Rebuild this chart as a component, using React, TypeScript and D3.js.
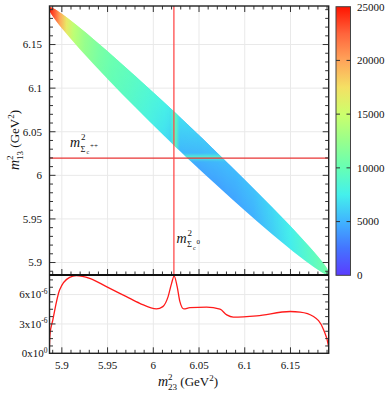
import React from "react";
import * as d3 from "d3";

// Dalitz boundary of the band (m23^2 vs upper / lower m13^2, GeV^2)
const edgeM23 = [5.885622, 5.887, 5.89, 5.9, 5.92, 5.95, 5.98, 6.01, 6.04, 6.07, 6.1, 6.13, 6.16, 6.18, 6.19, 6.192931];
const edgeUpper = [6.19159, 6.192809, 6.191795, 6.18527, 6.169064, 6.142346, 6.114298, 6.085416, 6.05588, 6.025738, 5.99495, 5.963344, 5.930433, 5.906853, 5.893232, 5.886716];
const edgeLower = [6.19159, 6.187559, 6.182485, 6.16869, 6.144352, 6.110519, 6.078322, 6.047258, 6.017148, 5.987935, 5.959661, 5.932484, 5.906897, 5.89163, 5.885876, 5.886716];

// density read along the band, at its upper and lower edge
const densityM23 = [5.8856, 5.892, 5.898, 5.905, 5.913, 5.925, 5.94, 5.955, 5.975, 5.995, 6.012, 6.03, 6.05, 6.07, 6.09, 6.11, 6.13, 6.15, 6.17, 6.1929];
const densityUpper = [25000, 23000, 20000, 17000, 14500, 12600, 11200, 10300, 9500, 8600, 7800, 6700, 6000, 5500, 5300, 5600, 6500, 7700, 9200, 10800];
const densityLower = [25000, 22500, 19500, 16500, 14000, 12200, 10800, 9800, 9000, 8000, 6900, 5200, 4500, 4300, 4400, 4900, 6000, 7300, 8900, 10800];

// resonance positions (red lines) and the enhancement seen on the band
const sigmaC0 = 6.0225;
const sigmaCpp = 6.0198;
const stripeC0Value = 10000;
const stripeCppValue = 8800;

// projected spectrum (units of 1e-6)
const spectrumM23 = [5.8862, 5.887, 5.8901, 5.8975, 5.9085, 5.9158, 5.9304, 5.9487, 5.9706, 5.9852, 6.0035, 6.0104, 6.0162, 6.02, 6.0228, 6.0261, 6.0291, 6.0334, 6.04, 6.0583, 6.0729, 6.0803, 6.0875, 6.1132, 6.1497, 6.1606, 6.1752, 6.1862, 6.1917, 6.1925];
const spectrumValue = [0, 1.9, 3.4, 6.46, 7.76, 7.93, 7.66, 6.81, 5.79, 5.11, 4.53, 4.77, 5.79, 7.15, 7.89, 6.81, 5.28, 4.53, 4.67, 4.71, 4.51, 3.93, 3.7, 3.83, 4.27, 4.21, 3.76, 2.4, 0.67, 0];

// ticks
const xTicks = [5.9, 5.95, 6, 6.05, 6.1, 6.15];
const xTickLabels = ["5.9", "5.95", "6", "6.05", "6.1", "6.15"];
const yTicks = [5.9, 5.95, 6, 6.05, 6.1, 6.15];
const yTickLabels = ["5.9", "5.95", "6", "6.05", "6.1", "6.15"];
const specTicks = [0, 3, 6];
const specTickLabels = [["0x10", "0"], ["3x10", "-6"], ["6x10", "-6"]];
const cbarTicks = [0, 5000, 10000, 15000, 20000, 25000];

// colour palette of the bar
const paletteValues = [0, 2500, 5000, 7500, 10000, 12500, 15000, 17500, 20000, 22500, 25000];
const paletteColors = ["#5a3cff", "#4474ff", "#40b4ff", "#44f0ec", "#66ffb4", "#98ff8c", "#ccff6c", "#f4e064", "#ffa45a", "#ff643c", "#ff1400"];

const W = 390, H = 408;
const P = { left: 49.5, right: 328.7, top: 6, mid: 275, bottom: 353.3 };
const CB = { left: 336, right: 350.5, top: 6.7, bottom: 275.3 };
const FONT = "'Liberation Serif', 'DejaVu Serif', serif";

const x = d3.scaleLinear().domain([5.8865, 6.1918]).range([P.left, P.right]);
const y = d3.scaleLinear().domain([5.8857, 6.1942]).range([P.mid, P.top]);
const ys = d3.scaleLinear().domain([0, 8]).range([P.bottom, P.mid]);
const cz = d3.scaleLinear().domain([0, 25000]).range([CB.bottom, CB.top]);
const color = d3.scaleLinear<string>().domain(paletteValues).range(paletteColors).interpolate(d3.interpolateRgb);

const MassLabel = ({ px, py, sup }) => (
  <g fontFamily={FONT} fill="#111">
    <text x={px} y={py} fontSize={14} fontStyle="italic">m</text>
    <text x={px + 11} y={py - 7} fontSize={9}>2</text>
    <text x={px + 10.5} y={py + 4.5} fontSize={8.5}>Σ</text>
    <text x={px + 16.5} y={py + 7} fontSize={6}>c</text>
    <text x={px + 20} y={py + 1} fontSize={7}>{sup}</text>
  </g>
);

export default function App() {
  // band outline
  const outline = [
    ...edgeM23.map((s, i) => [x(s), y(edgeUpper[i])]),
    ...edgeM23.slice(1, -1).map((s, i) => [x(s), y(edgeLower[i + 1])]).reverse(),
  ];
  const bandPath = d3.line().curve(d3.curveCatmullRomClosed)(outline as [number, number][]);

  const gx0 = x(densityM23[0]);
  const gx1 = x(densityM23[densityM23.length - 1]);
  const off = (s) => (x(s) - gx0) / (gx1 - gx0);

  // cross-band direction for blending upper/lower edge colours
  const a = [x(edgeM23[0]), y(edgeUpper[0])];
  const b = [x(edgeM23[edgeM23.length - 1]), y(edgeUpper[edgeUpper.length - 1])];
  const len = Math.hypot(b[0] - a[0], b[1] - a[1]);
  const n = [(b[1] - a[1]) / len, -(b[0] - a[0]) / len];
  const c = [x(6.04), y((edgeUpper[8] + edgeLower[8]) / 2)];
  const hw = 12;

  const specLine = d3.line<number>()
    .x((_, i) => x(spectrumM23[i]))
    .y((v) => ys(v))
    .curve(d3.curveMonotoneX)(spectrumValue);

  const xMinor = d3.range(589, 620).map((v) => v / 100);
  const yMinor = d3.range(589, 620).map((v) => v / 100);
  const sMinor = d3.range(0, 8.01, 0.75);

  return (
    <svg width={W} height={H} style={{ position: "absolute", left: 0, top: 0, background: "#fff" }}>
      <defs>
        <clipPath id="plotClip"><rect x={P.left} y={P.top} width={P.right - P.left} height={P.mid - P.top} /></clipPath>
        <clipPath id="specClip"><rect x={P.left} y={P.mid} width={P.right - P.left} height={P.bottom - P.mid} /></clipPath>
        <clipPath id="bandClip"><path d={bandPath} /></clipPath>
        <linearGradient id="gUpper" gradientUnits="userSpaceOnUse" x1={gx0} y1={0} x2={gx1} y2={0}>
          {densityM23.map((s, i) => <stop key={i} offset={off(s)} stopColor={color(densityUpper[i])} />)}
        </linearGradient>
        <linearGradient id="gLower" gradientUnits="userSpaceOnUse" x1={gx0} y1={0} x2={gx1} y2={0}>
          {densityM23.map((s, i) => <stop key={i} offset={off(s)} stopColor={color(densityLower[i])} />)}
        </linearGradient>
        <linearGradient id="gMask" gradientUnits="userSpaceOnUse"
          x1={c[0] - hw * n[0]} y1={c[1] - hw * n[1]} x2={c[0] + hw * n[0]} y2={c[1] + hw * n[1]}>
          <stop offset={0} stopColor="#000" />
          <stop offset={1} stopColor="#fff" />
        </linearGradient>
        <mask id="upperMask" maskUnits="userSpaceOnUse" x={0} y={0} width={W} height={H}>
          <rect width={W} height={H} fill="url(#gMask)" />
        </mask>
        <linearGradient id="gBar" x1={0} y1={1} x2={0} y2={0}>
          {paletteValues.map((v, i) => <stop key={i} offset={v / 25000} stopColor={paletteColors[i]} />)}
        </linearGradient>
        <filter id="blur" filterUnits="userSpaceOnUse" x={0} y={0} width={W} height={H}>
          <feGaussianBlur stdDeviation={1.8} />
        </filter>
      </defs>

      {/* grid */}
      <g stroke="#e9e9e9" strokeWidth={1}>
        {xTicks.map((t) => <line key={"gx" + t} x1={x(t)} x2={x(t)} y1={P.top} y2={P.bottom} />)}
        {yTicks.map((t) => <line key={"gy" + t} x1={P.left} x2={P.right} y1={y(t)} y2={y(t)} />)}
        {specTicks.slice(1).map((t) => <line key={"gs" + t} x1={P.left} x2={P.right} y1={ys(t)} y2={ys(t)} />)}
      </g>

      {/* Dalitz band */}
      <g clipPath="url(#plotClip)">
        <g clipPath="url(#bandClip)">
          <rect x={P.left - 5} y={P.top - 5} width={P.right - P.left + 10} height={P.mid - P.top + 10} fill="url(#gLower)" />
          <rect x={P.left - 5} y={P.top - 5} width={P.right - P.left + 10} height={P.mid - P.top + 10} fill="url(#gUpper)" mask="url(#upperMask)" />
          <g filter="url(#blur)" opacity={0.85}>
            <line x1={x(sigmaC0 + 0.0012)} x2={x(sigmaC0 + 0.0012)} y1={y(6.1)} y2={y(5.98)} stroke={color(stripeC0Value)} strokeWidth={5} />
            <line x1={x(5.99)} x2={x(6.1)} y1={y(sigmaCpp + 0.001)} y2={y(sigmaCpp + 0.001)} stroke={color(stripeCppValue)} strokeWidth={4.5} />
          </g>
        </g>
        <line x1={P.left} x2={P.right} y1={y(sigmaCpp)} y2={y(sigmaCpp)} stroke="#e83434" strokeWidth={1.3} />
        <line x1={x(sigmaC0)} x2={x(sigmaC0)} y1={P.top} y2={P.mid} stroke="#ff4a4a" strokeOpacity={0.8} strokeWidth={1.6} />
      </g>

      <MassLabel px={70} py={147} sup="++" />
      <MassLabel px={176.5} py={242.5} sup="0" />

      {/* spectrum */}
      <g clipPath="url(#specClip)">
        <path d={specLine} fill="none" stroke="#ff1a1a" strokeWidth={1.3} />
        <line x1={x(sigmaC0)} x2={x(sigmaC0)} y1={P.mid} y2={ys(7.8)} stroke="#ff2a2a" strokeWidth={1.3} />
      </g>

      {/* ticks */}
      <g stroke="#333" strokeWidth={1}>
        {xMinor.filter((t) => t > x.domain()[0] && t < x.domain()[1]).map((t) => {
          const major = xTicks.some((m) => Math.abs(m - t) < 1e-6);
          const l = major ? 6 : 3.5;
          return (
            <g key={"xt" + t}>
              <line x1={x(t)} x2={x(t)} y1={P.top} y2={P.top + l} />
              <line x1={x(t)} x2={x(t)} y1={P.mid} y2={P.mid - l} />
              <line x1={x(t)} x2={x(t)} y1={P.bottom} y2={P.bottom - l} />
            </g>
          );
        })}
        {yMinor.filter((t) => t > y.domain()[0] && t < y.domain()[1]).map((t) => {
          const major = yTicks.some((m) => Math.abs(m - t) < 1e-6);
          const l = major ? 6 : 3.5;
          return (
            <g key={"yt" + t}>
              <line x1={P.left} x2={P.left + l} y1={y(t)} y2={y(t)} />
              <line x1={P.right} x2={P.right - l} y1={y(t)} y2={y(t)} />
            </g>
          );
        })}
        {sMinor.filter((t) => t > 0 && t < 8).map((t) => {
          const major = specTicks.includes(t);
          const l = major ? 6 : 3.5;
          return (
            <g key={"st" + t}>
              <line x1={P.left} x2={P.left + l} y1={ys(t)} y2={ys(t)} />
              <line x1={P.right} x2={P.right - l} y1={ys(t)} y2={ys(t)} />
            </g>
          );
        })}
      </g>

      {/* frames */}
      <rect x={P.left} y={P.top} width={P.right - P.left} height={P.bottom - P.top} fill="none" stroke="#222" strokeWidth={1.4} />
      <line x1={P.left} x2={P.right} y1={P.mid} y2={P.mid} stroke="#111" strokeWidth={2} />

      {/* tick labels */}
      <g fontFamily={FONT} fontSize={11} fill="#111">
        {xTicks.map((t, i) => <text key={"xl" + t} x={x(t)} y={369} textAnchor="middle">{xTickLabels[i]}</text>)}
        {yTicks.map((t, i) => <text key={"yl" + t} x={42} y={y(t) + 3.8} textAnchor="end">{yTickLabels[i]}</text>)}
        {specTicks.map((t, i) => (
          <text key={"sl" + t} x={47.5} y={ys(t) + 3.8} textAnchor="end">
            {specTickLabels[i][0]}
            <tspan fontSize={7.5} dy={-4.5}>{specTickLabels[i][1]}</tspan>
          </text>
        ))}
      </g>

      {/* axis titles */}
      <text fontFamily={FONT} fontSize={13} fill="#111" textAnchor="middle" x={188} y={386}>
        <tspan fontStyle="italic" fontSize={14}>m</tspan>
        <tspan fontSize={9} dy={-6.5}>2</tspan>
        <tspan fontSize={9} dx={-4.5} dy={10}>23</tspan>
        <tspan dy={-3.5}>{" (GeV"}</tspan>
        <tspan fontSize={9} dy={-5}>2</tspan>
        <tspan dy={5}>)</tspan>
      </text>
      <text fontFamily={FONT} fontSize={13} fill="#111" textAnchor="middle" transform="translate(19,140) rotate(-90)">
        <tspan fontStyle="italic" fontSize={14}>m</tspan>
        <tspan fontSize={9} dy={-6.5}>2</tspan>
        <tspan fontSize={9} dx={-4.5} dy={10}>13</tspan>
        <tspan dy={-3.5}>{" (GeV"}</tspan>
        <tspan fontSize={9} dy={-5}>2</tspan>
        <tspan dy={5}>)</tspan>
      </text>

      {/* colour bar */}
      <rect x={CB.left} y={CB.top} width={CB.right - CB.left} height={CB.bottom - CB.top} fill="url(#gBar)" stroke="#444" strokeWidth={1} />
      <g stroke="#333" strokeWidth={1}>
        {cbarTicks.slice(1, -1).map((t) => (
          <g key={"cb" + t}>
            <line x1={CB.left} x2={CB.left + 4} y1={cz(t)} y2={cz(t)} />
            <line x1={CB.right - 4} x2={CB.right} y1={cz(t)} y2={cz(t)} />
          </g>
        ))}
      </g>
      <g fontFamily={FONT} fontSize={11} fill="#111">
        {cbarTicks.map((t) => <text key={"cl" + t} x={357} y={cz(t) + 3.8}>{t}</text>)}
      </g>
    </svg>
  );
}
